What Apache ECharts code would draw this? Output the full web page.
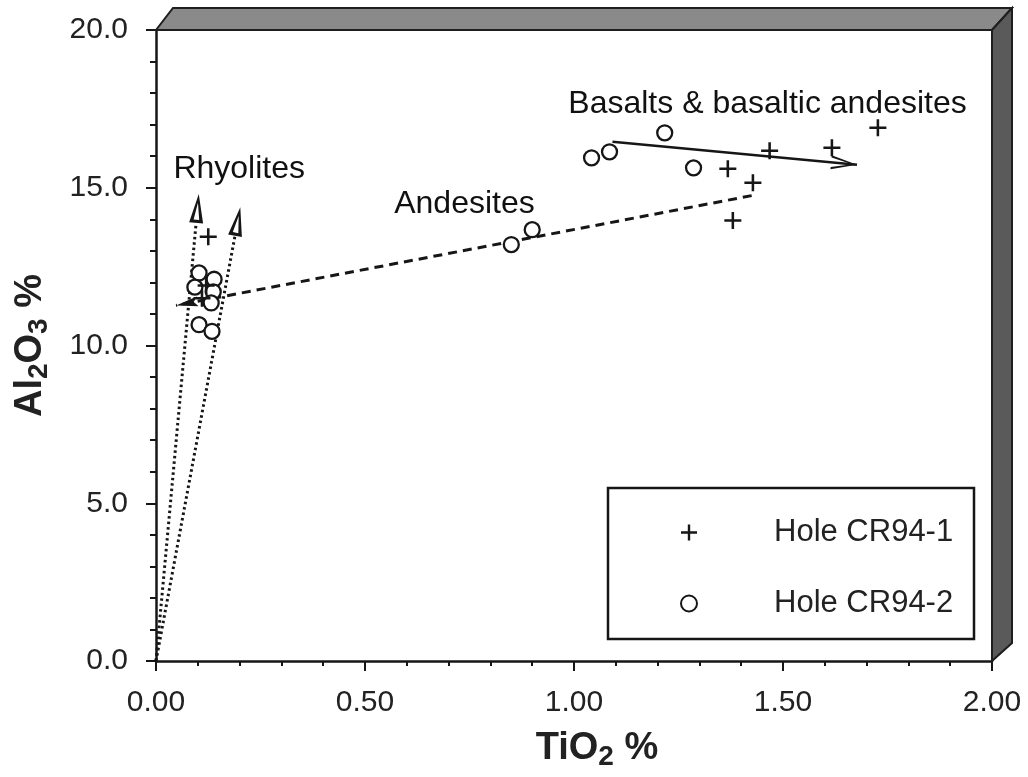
<!DOCTYPE html>
<html><head><meta charset="utf-8">
<script src="https://cdn.jsdelivr.net/npm/echarts@6/dist/echarts.min.js"></script>
<style>html,body{margin:0;padding:0;background:#fff}#c{width:1028px;height:777px}</style>
</head><body><div id="c"></div>
<script>
// ---- data ----
const xTickLabels = ['0.00', '0.50', '1.00', '1.50', '2.00'];
const yTickLabels = ['0.0', '5.0', '10.0', '15.0', '20.0'];
const holeCR94_1 = [[0.125,13.45],[0.12,11.9],[0.11,11.5],[1.368,15.6],[1.428,15.16],[1.38,13.96],[1.468,16.17],[1.617,16.27],[1.727,16.9]];
const holeCR94_2 = [[0.103,12.3],[0.093,11.85],[0.139,12.1],[0.137,11.7],[0.132,11.35],[0.103,10.66],[0.134,10.45],[0.85,13.2],[0.90,13.67],[1.042,15.95],[1.085,16.14],[1.217,16.74],[1.286,15.63]];
const rhyoliteTrends = [[[0,0],[0.096,13.89]], [[0,0],[0.189,13.48]]];
const andesiteTrend = [[1.425,14.75],[0.048,11.27]];
const basaltTrend = [[1.092,16.46],[1.677,15.73]];
const annotations = [[0.199,15.6,'Rhyolites'],[0.738,14.49,'Andesites'],[1.463,17.66,'Basalts & basaltic andesites']];

// ---- symbols ----
const plusSym = 'path://M6.8,0H9.2V6.8H16V9.2H9.2V16H6.8V9.2H0V6.8H6.8Z';
const openTri = 'path://M6,0L12,26L0,26ZM6,8L3.6,23.2L8.4,23.2ZM6,52';
const chevron = 'path://M7,0L14,26L11.8,26L7,5L2.2,26L0,26ZM7,-26';
const filledArrow = 'path://M5,0L10,22L5,18L0,22ZM5,-22';
const INK = '#161616';
const FONT = '"Liberation Sans", Arial, Helvetica, sans-serif';

const chart = echarts.init(document.getElementById('c'), null, {renderer: 'canvas'});
const option = {
  backgroundColor: '#ffffff',
  animation: false,
  textStyle: {fontFamily: FONT},
  grid: {left: 156, right: 36, top: 30, bottom: 116, containLabel: false, outerBoundsMode: 'none'},
  xAxis: {
    type: 'value', min: 0, max: 2, interval: 0.5,
    axisLine: {lineStyle: {color: INK, width: 2.5}},
    axisTick: {length: 10, lineStyle: {color: INK, width: 2}},
    minorTick: {show: true, splitNumber: 5, length: 5, lineStyle: {color: INK, width: 2}},
    splitLine: {show: false},
    axisLabel: {fontSize: 30, color: '#222', margin: 27, fontFamily: FONT,
      formatter: v => xTickLabels[Math.round(v / 0.5)]},
    name: 'TiO{sub|2} %', nameLocation: 'middle', nameGap: 66,
    nameTextStyle: {fontSize: 38, fontWeight: 'bold', color: '#222', fontFamily: FONT, padding: [0,0,0,46],
      lineHeight: 44,
      rich: {sub: {fontSize: 28, fontWeight: 'bold', color: '#222', fontFamily: FONT, lineHeight: 26, verticalAlign: 'bottom'}}}
  },
  yAxis: {
    type: 'value', min: 0, max: 20, interval: 5,
    axisLine: {lineStyle: {color: INK, width: 2.5}},
    axisTick: {length: 10, lineStyle: {color: INK, width: 2}},
    minorTick: {show: true, splitNumber: 5, length: 6, lineStyle: {color: INK, width: 2}},
    splitLine: {show: false},
    axisLabel: {fontSize: 30, color: '#222', margin: 28, fontFamily: FONT,
      formatter: v => yTickLabels[Math.round(v / 5)]},
    name: 'Al{sub|2}O{sub|3} %', nameLocation: 'middle', nameGap: 103, nameRotate: 90,
    nameTextStyle: {fontSize: 38, fontWeight: 'bold', color: '#222', fontFamily: FONT, lineHeight: 44,
      rich: {sub: {fontSize: 28, fontWeight: 'bold', color: '#222', fontFamily: FONT, lineHeight: 26, verticalAlign: 'bottom'}}}
  },
  legend: {
    data: ['Hole CR94-1', 'Hole CR94-2'],
    orient: 'vertical', left: 675, top: 512, itemGap: 40,
    itemWidth: 16, itemHeight: 16,
    textStyle: {fontSize: 31, color: '#222', fontFamily: FONT, lineHeight: 30, padding: [0,0,0,72]},
    selectedMode: false
  },
  graphic: [
    {type: 'polygon', silent: true, z: 100, shape: {points: [[156,30],[173,8],[1012,8],[992,30]]},
      style: {fill: '#8a8a8a', stroke: '#1e1e1e', lineWidth: 2}},
    {type: 'polygon', silent: true, z: 100, shape: {points: [[992,30],[1012,8],[1012,643],[992,661]]},
      style: {fill: '#5a5a5a', stroke: '#1e1e1e', lineWidth: 2}},
    {type: 'rect', silent: true, z: 100, shape: {x: 608, y: 488, width: 366, height: 151},
      style: {fill: 'none', stroke: INK, lineWidth: 2.5}}
  ],
  series: [
    {type: 'lines', coordinateSystem: 'cartesian2d', silent: true, z: 3,
      data: rhyoliteTrends.map(c => ({coords: c})),
      lineStyle: {color: INK, width: 3, type: [2.5, 3], opacity: 1},
      symbol: ['none', openTri], symbolSize: [0, [14, 58]]},
    {type: 'lines', coordinateSystem: 'cartesian2d', silent: true, z: 3,
      data: [{coords: andesiteTrend}],
      lineStyle: {color: INK, width: 3, type: [9, 6], opacity: 1},
      symbol: ['none', filledArrow], symbolSize: [0, [10, 44]]},
    {type: 'lines', coordinateSystem: 'cartesian2d', silent: true, z: 3,
      data: [{coords: basaltTrend}],
      lineStyle: {color: INK, width: 2.5, opacity: 1},
      symbol: ['none', chevron], symbolSize: [0, [14, 52]]},
    {name: 'Hole CR94-1', type: 'scatter', z: 5, data: holeCR94_1,
      symbol: plusSym, symbolSize: 17, itemStyle: {color: INK, opacity: 1}},
    {name: 'Hole CR94-2', type: 'scatter', z: 4, data: holeCR94_2,
      symbol: 'circle', symbolSize: 15,
      itemStyle: {color: '#fff', borderColor: INK, borderWidth: 2.3, opacity: 1}},
    {name: 'annotations', type: 'scatter', z: 6, silent: true, data: annotations,
      symbolSize: 0, itemStyle: {opacity: 1},
      label: {show: true, position: 'inside', formatter: p => p.value[2], opacity: 1,
        fontSize: 32, color: '#111', fontFamily: FONT}}
  ]
};
chart.setOption(option);
</script></body></html>
